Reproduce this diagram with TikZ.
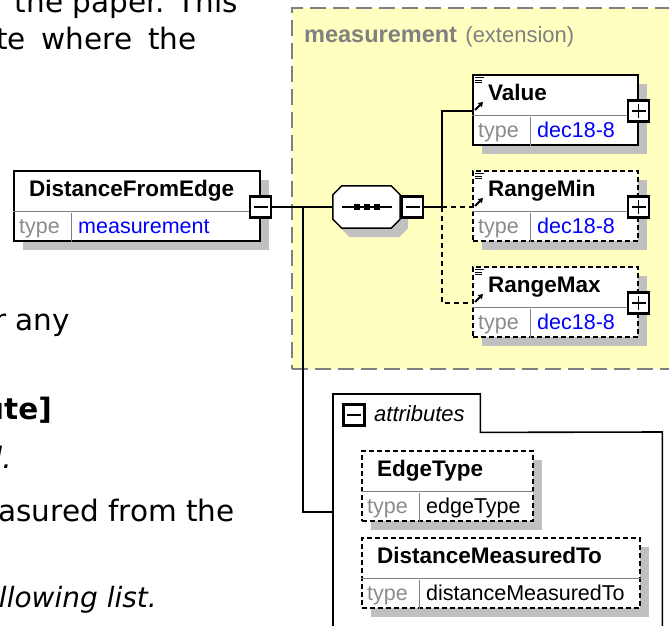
\documentclass[tikz,border=0pt]{standalone}
\usepackage{fontspec}
\setmainfont{Liberation Sans}
\newfontfamily\pagefont{DejaVu Sans}
\usetikzlibrary{shadows,arrows.meta}
\definecolor{extfill}{RGB}{255,255,192}
\definecolor{shadowgray}{RGB}{192,192,192}
\definecolor{midgray}{RGB}{128,128,128}
\definecolor{typegray}{RGB}{140,140,140}
\definecolor{linkblue}{RGB}{0,0,255}
\tikzset{
  elembox/.style={draw=black, line width=1.6pt, fill=white, minimum height=70, inner sep=0,
    drop shadow={shadow xshift=9pt, shadow yshift=-9pt, opacity=1, fill=shadowgray}},
  optbox/.style={elembox, dash pattern=on 5pt off 3pt},
  divline/.style={draw=midgray, line width=1pt},
  namelbl/.style={anchor=base west, inner sep=0, font=\fontsize{22.5}{27}\selectfont\bfseries},
  typelbl/.style={anchor=base west, inner sep=0, text=typegray, font=\fontsize{21.5}{26}\selectfont},
  typeval/.style={anchor=base west, inner sep=0, font=\fontsize{21.5}{26}\selectfont},
  pmbox/.style={draw=black, fill=white, line width=2.2pt, minimum size=21, inner sep=0},
  pmsign/.style={line width=1.7pt},
  iconline/.style={line width=0.9pt},
  iconarrow/.style={line width=1.8pt, -{Triangle[length=4.5pt,width=5.5pt]}},
  conn/.style={line width=1.7pt},
  conndash/.style={conn, dash pattern=on 5pt off 4pt},
  extbox/.style={draw=midgray, fill=extfill, line width=2pt, dash pattern=on 16pt off 7pt, inner sep=0},
  frame/.style={draw=none, inner sep=0},
  attrline/.style={line width=1.6pt},
  pagetxt/.style={anchor=base east, inner sep=0, font=\pagefont\fontsize{29.5}{35}\selectfont},
}
\newcommand{\xsdbox}[7]{%
  \node[#4, minimum width=#3, anchor=north west] (#1) at (#2) {};
  \draw[divline] ([yshift=-41pt]#1.north west) -- ([yshift=-41pt]#1.north east);
  \draw[divline] ([xshift=58pt]#1.south west) -- ([xshift=58pt,yshift=29pt]#1.south west);
  \node[namelbl] (#1-name) at ([xshift=16pt,yshift=-26pt]#1.north west) {#5};
  \node[typelbl] (#1-type) at ([xshift=6pt,yshift=8pt]#1.south west) {type};
  \node[typeval, text=#7] (#1-val) at ([xshift=65pt,yshift=8pt]#1.south west) {#6};
}
\newcommand{\xsdicons}[1]{%
  \draw[iconline] ([xshift=3pt,yshift=-3.5pt]#1.north west) -- ++(9,0);
  \draw[iconline] ([xshift=3pt,yshift=-6.2pt]#1.north west) -- ++(7,0);
  \draw[iconline] ([xshift=3pt,yshift=-8.9pt]#1.north west) -- ++(7,0);
  \draw[iconarrow] ([xshift=3pt,yshift=-36pt]#1.north west) -- ++(8,-8);
}
\newcommand{\xsdminus}[2]{%
  \node[pmbox] (#1) at (#2) {};
  \draw[pmsign] ([xshift=-7pt]#1.center) -- ([xshift=7pt]#1.center);
}
\newcommand{\xsdplus}[2]{%
  \xsdminus{#1}{#2}%
  \draw[pmsign] ([yshift=-7pt]#1.center) -- ([yshift=7pt]#1.center);
}
\begin{document}
\begin{tikzpicture}[x=1pt,y=-1pt]
\useasboundingbox (0,0) rectangle (669,626);
\clip (0,0) rectangle (669,626);
\fill[white] (0,0) rectangle (669,626);

% extension region
\node[extbox, minimum width=400, minimum height=361, anchor=north west] (ext) at (291,7) {};
\node[anchor=base west, inner sep=0, text=midgray, font=\fontsize{23.5}{28}\selectfont\bfseries] (exthead) at (304,43) {measurement};
\node[anchor=base west, inner sep=0, text=midgray, font=\fontsize{22}{26}\selectfont] (extparen) at ([xshift=8pt]exthead.base east) {(extension)};

% page text (cut off at left)
\node[pagetxt] (p1) at (238,13) {the paper. This};
\node[pagetxt] (p2) at (197,49) {\spaceskip=16pt te where the};
\node[pagetxt] (p3) at (70,330) {r any};
\node[pagetxt, font=\pagefont\fontsize{29.5}{35}\selectfont\bfseries] (p4) at (52,419) {ute]};
\node[pagetxt, font=\pagefont\fontsize{29.5}{35}\selectfont\itshape] (p5) at (12,468) {l.};
\node[pagetxt] (p6) at (235,521) {asured from the};
\node[pagetxt, font=\pagefont\fontsize{28}{35}\selectfont\itshape] (p7) at (157,607) {llowing list.};

% attributes group
\node[frame, minimum width=329, minimum height=250, anchor=north west] (attrbox) at (333,432) {};
\node[frame, minimum width=147, minimum height=38, anchor=north west] (attrtab) at (333,394) {};
\draw[attrline] (attrbox.south west) -- (attrtab.north west) -- (attrtab.north east)
  -- (attrtab.south east) -- (attrbox.north east) -- (attrbox.south east);
\node[anchor=base west, inner sep=0, font=\fontsize{22}{26}\selectfont\itshape] (attrlbl) at (374,421) {attributes};

% sequence compositor
\node[frame, minimum width=67, minimum height=42] (seq) at (366.5,207) {};
\draw[line width=1.5pt, fill=white, drop shadow={shadow xshift=8pt, shadow yshift=-9pt, opacity=1, fill=shadowgray}]
  ([xshift=9pt]seq.north west) -- ([xshift=-9pt]seq.north east) -- ([yshift=-9pt]seq.north east)
  -- ([yshift=9pt]seq.south east) -- ([xshift=-9pt]seq.south east) -- ([xshift=9pt]seq.south west)
  -- ([yshift=9pt]seq.south west) -- ([yshift=-9pt]seq.north west) -- cycle;
\draw[line width=1.3pt] ([xshift=9.5pt]seq.west) -- ([xshift=-8.5pt]seq.east);
\foreach \dx in {-10,0,10} \fill ([xshift=\dx pt]seq.center) +(-3,-3) rectangle +(3,3);

% connectors
\coordinate (j1) at (303,207);
\coordinate (j2) at (442,207);

% element boxes
\xsdbox{dfe}{13,170}{246}{elembox}{DistanceFromEdge}{measurement}{linkblue}
\xsdbox{value}{472,74}{165}{elembox}{Value}{dec18-8}{linkblue}
\xsdbox{rmin}{472,170}{165}{optbox}{RangeMin}{dec18-8}{linkblue}
\xsdbox{rmax}{472,266}{165}{optbox}{RangeMax}{dec18-8}{linkblue}
\xsdbox{edge}{361,450}{171}{optbox}{EdgeType}{edgeType}{black}
\xsdbox{dmt}{361,537}{278}{optbox}{DistanceMeasuredTo}{distanceMeasuredTo}{black}
\xsdicons{value}
\xsdicons{rmin}
\xsdicons{rmax}

\xsdminus{dfepm}{[yshift=-37pt]dfe.north east}
\xsdminus{seqpm}{412.5,207}
\xsdminus{attrpm}{354,415}
\xsdplus{valuepm}{[yshift=-37pt]value.north east}
\xsdplus{rminpm}{[yshift=-37pt]rmin.north east}
\xsdplus{rmaxpm}{[yshift=-37pt]rmax.north east}

\draw[conn] (dfepm.east) -- (seq.west);
\draw[conn] (j1) |- ([yshift=-80pt]attrbox.north west);
\draw[conn] (seqpm.east) -- (j2);
\draw[conn] (j2) |- ([yshift=-37pt]value.north west);
\draw[conndash] (j2) -- ([yshift=-37pt]rmin.north west);
\draw[conndash] (j2) |- ([yshift=-37pt]rmax.north west);
\end{tikzpicture}
\end{document}
